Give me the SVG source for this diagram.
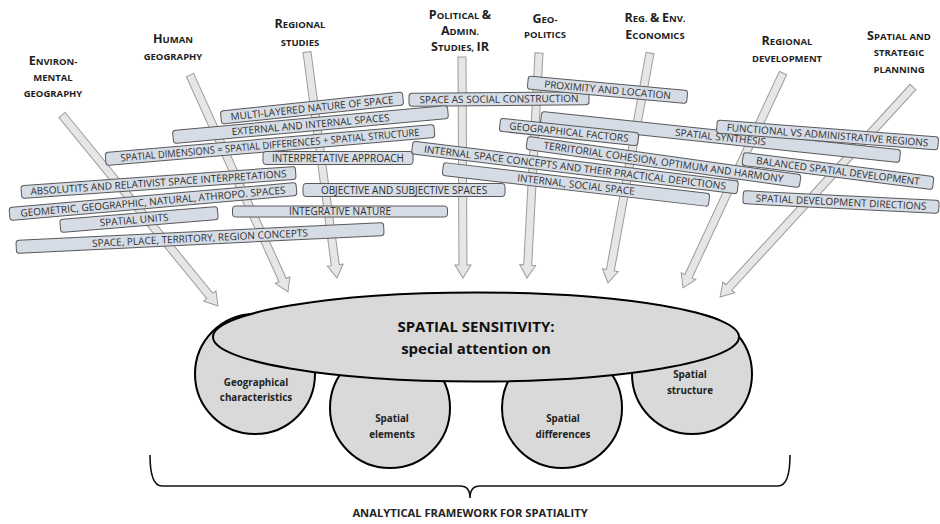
<svg xmlns="http://www.w3.org/2000/svg" width="940" height="524" viewBox="0 0 940 524">
<style>
text { font-family: "Open Sans", "Liberation Sans", sans-serif; }
.hdr { font-weight: 700; font-size: 9.5px; fill: #1e1e1e; text-anchor: middle; }
.hdr .b { font-size: 12.5px; }
.box rect { fill: #d6dce5; stroke: #595959; stroke-width: 1; }
.box text { font-size: 10px; fill: #2e2e2e; text-anchor: middle; }
.arr { fill: #e6e6e6; stroke: #9b9b9b; stroke-width: 1; }
.shape { fill: #d9d9d9; stroke: #000; stroke-width: 2; }
.ct { font-weight: 700; font-size: 9.8px; fill: #222; text-anchor: middle; }
.title { font-weight: 700; font-size: 15px; fill: #111; text-anchor: middle; }
.foot { font-weight: 700; font-size: 11.2px; fill: #222; text-anchor: middle; }
</style>

<g id="connectors">
  <path class="arr" transform="translate(62,115) rotate(50.76)" d="M0,-4 H233.6 V-8 L246.6,0 L233.6,8 V4 H0 Z"/>
  <path class="arr" transform="translate(190,75) rotate(65.7)" d="M0,-4 H225.1 V-8 L238.1,0 L225.1,8 V4 H0 Z"/>
  <path class="arr" transform="translate(307,52) rotate(82.44)" d="M0,-4 H215 V-8 L228,0 L215,8 V4 H0 Z"/>
  <path class="arr" transform="translate(462,57) rotate(89.74)" d="M0,-4 H208 V-8 L221,0 L208,8 V4 H0 Z"/>
  <path class="arr" transform="translate(539,53) rotate(93.05)" d="M0,-4 H212.3 V-8 L225.3,0 L212.3,8 V4 H0 Z"/>
  <path class="arr" transform="translate(650,53) rotate(100.35)" d="M0,-4 H220.8 V-8 L233.8,0 L220.8,8 V4 H0 Z"/>
  <path class="arr" transform="translate(783,73) rotate(114.94)" d="M0,-4 H224.1 V-8 L237.1,0 L224.1,8 V4 H0 Z"/>
  <path class="arr" transform="translate(913,87) rotate(132.58)" d="M0,-4 H272.2 V-8 L285.2,0 L272.2,8 V4 H0 Z"/>
</g>

<g id="hdr-env"><text class="hdr"><tspan x="53" y="65"><tspan class="b">E</tspan>NVIRON-</tspan><tspan x="53" y="81">MENTAL</tspan><tspan x="53" y="97">GEOGRAPHY</tspan></text></g>
<g id="hdr-human"><text class="hdr"><tspan x="173" y="43"><tspan class="b">H</tspan>UMAN</tspan><tspan x="173" y="60">GEOGRAPHY</tspan></text></g>
<g id="hdr-regstud"><text class="hdr"><tspan x="300" y="28"><tspan class="b">R</tspan>EGIONAL</tspan><tspan x="300" y="46">STUDIES</tspan></text></g>
<g id="hdr-pol"><text class="hdr"><tspan x="460" y="19"><tspan class="b">P</tspan>OLITICAL <tspan class="b">&amp;</tspan></tspan><tspan x="460" y="35"><tspan class="b">A</tspan>DMIN.</tspan><tspan x="460" y="51"><tspan class="b">S</tspan>TUDIES, <tspan class="b">IR</tspan></tspan></text></g>
<g id="hdr-geo"><text class="hdr"><tspan x="545" y="23"><tspan class="b">G</tspan>EO-</tspan><tspan x="545" y="38">POLITICS</tspan></text></g>
<g id="hdr-econ"><text class="hdr"><tspan x="655" y="21.5"><tspan class="b">R</tspan>EG. <tspan class="b">&amp;</tspan> <tspan class="b">E</tspan>NV.</tspan><tspan x="655" y="39"><tspan class="b">E</tspan>CONOMICS</tspan></text></g>
<g id="hdr-regdev"><text class="hdr"><tspan x="787" y="45"><tspan class="b">R</tspan>EGIONAL</tspan><tspan x="787" y="62">DEVELOPMENT</tspan></text></g>
<g id="hdr-plan"><text class="hdr"><tspan x="899" y="40"><tspan class="b">S</tspan>PATIAL AND</tspan><tspan x="899" y="56">STRATEGIC</tspan><tspan x="899" y="73">PLANNING</tspan></text></g>

<g id="box-multi" class="box" transform="translate(312,108) rotate(-6)"><rect x="-91.5" y="-6.5" width="183" height="13" rx="3"/><text y="3.6">MULTI-LAYERED NATURE OF SPACE</text></g>
<g id="box-social" class="box" transform="translate(499,99) rotate(-0.5)"><rect x="-90" y="-6.5" width="180" height="13" rx="3"/><text y="3.6">SPACE AS SOCIAL CONSTRUCTION</text></g>
<g id="box-external" class="box" transform="translate(310.5,124.5) rotate(-5.2)"><rect x="-138" y="-6.5" width="276" height="13" rx="3"/><text y="3.6">EXTERNAL AND INTERNAL SPACES</text></g>
<g id="box-dimensions" class="box" transform="translate(270,145) rotate(-4.9)"><rect x="-165" y="-6.5" width="330" height="13" rx="3"/><text y="3.6" textLength="300" lengthAdjust="spacingAndGlyphs">SPATIAL DIMENSIONS = SPATIAL DIFFERENCES + SPATIAL STRUCTURE</text></g>
<g id="box-interpretative" class="box" transform="translate(338,158)"><rect x="-75" y="-6.5" width="150" height="13" rx="3"/><text y="3.6">INTERPRETATIVE APPROACH</text></g>
<g id="box-absolut" class="box" transform="translate(158.5,182.5) rotate(-4)"><rect x="-137.5" y="-6.5" width="275" height="13" rx="3"/><text y="3.6">ABSOLUTITS AND RELATIVIST SPACE INTERPRETATIONS</text></g>
<g id="box-geometric" class="box" transform="translate(153,201.5) rotate(-5)"><rect x="-144" y="-6.5" width="288" height="13" rx="3"/><text y="3.6">GEOMETRIC, GEOGRAPHIC, NATURAL, ATHROPO. SPACES</text></g>
<g id="box-units" class="box" transform="translate(139,219.5) rotate(-4.7)"><rect x="-79" y="-6.5" width="158" height="13" rx="3"/><text x="-5" y="3.6">SPATIAL UNITS</text></g>
<g id="box-concepts" class="box" transform="translate(200,238) rotate(-2.8)"><rect x="-184" y="-6.5" width="368" height="13" rx="3"/><text y="3.6">SPACE, PLACE, TERRITORY, REGION CONCEPTS</text></g>
<g id="box-objective" class="box" transform="translate(404,190)"><rect x="-101" y="-6.5" width="202" height="13" rx="3"/><text y="3.6">OBJECTIVE AND SUBJECTIVE SPACES</text></g>
<g id="box-integrative" class="box" transform="translate(340,211.5)"><rect x="-107.5" y="-5.5" width="215" height="11" rx="3"/><text y="3.6">INTEGRATIVE NATURE</text></g>
<g id="box-synthesis" class="box" transform="translate(720.5,137) rotate(6.1)"><rect x="-180.5" y="-6.5" width="361" height="13" rx="3"/><text y="3.6">SPATIAL SYNTHESIS</text></g>
<g id="box-internalconcepts" class="box" transform="translate(575,167.5) rotate(7)"><rect x="-164" y="-6.5" width="328" height="13" rx="3"/><text y="3.6" textLength="304" lengthAdjust="spacingAndGlyphs">INTERNAL SPACE CONCEPTS AND THEIR PRACTICAL DEPICTIONS</text></g>
<g id="box-internalsocial" class="box" transform="translate(576,184.5) rotate(6.65)"><rect x="-134" y="-6.5" width="268" height="13" rx="3"/><text y="3.6">INTERNAL, SOCIAL SPACE</text></g>
<g id="box-proximity" class="box" transform="translate(607.5,89.75) rotate(5.2)"><rect x="-80" y="-6.5" width="160" height="13" rx="3"/><text y="3.6">PROXIMITY AND LOCATION</text></g>
<g id="box-geofactors" class="box" transform="translate(569,132) rotate(6)"><rect x="-69.5" y="-6.5" width="139" height="13" rx="3"/><text y="3.6">GEOGRAPHICAL FACTORS</text></g>
<g id="box-territorial" class="box" transform="translate(663.5,162) rotate(8)"><rect x="-138" y="-6.5" width="276" height="13" rx="3"/><text y="3.6">TERRITORIAL COHESION, OPTIMUM AND HARMONY</text></g>
<g id="box-functional" class="box" transform="translate(827.5,135) rotate(4.4)"><rect x="-111" y="-6.5" width="222" height="13" rx="3"/><text y="3.6">FUNCTIONAL VS ADMINISTRATIVE REGIONS</text></g>
<g id="box-balanced" class="box" transform="translate(838,171) rotate(7.3)"><rect x="-96" y="-6.5" width="192" height="13" rx="3"/><text y="3.6">BALANCED SPATIAL DEVELOPMENT</text></g>
<g id="box-directions" class="box" transform="translate(841,202) rotate(2.8)"><rect x="-98" y="-6.5" width="196" height="13" rx="3"/><text y="3.6">SPATIAL DEVELOPMENT DIRECTIONS</text></g>

<g id="circle-geo"><circle class="shape" cx="255" cy="374" r="60"/><text class="ct"><tspan x="256" y="386">Geographical</tspan><tspan x="256" y="401">characteristics</tspan></text></g>
<g id="circle-elements"><circle class="shape" cx="390" cy="408" r="60"/><text class="ct"><tspan x="392" y="422">Spatial</tspan><tspan x="392" y="438">elements</tspan></text></g>
<g id="circle-differences"><circle class="shape" cx="562" cy="408" r="60"/><text class="ct"><tspan x="563" y="422">Spatial</tspan><tspan x="563" y="438">differences</tspan></text></g>
<g id="circle-structure"><circle class="shape" cx="692" cy="374" r="60"/><text class="ct"><tspan x="690" y="378">Spatial</tspan><tspan x="690" y="394">structure</tspan></text></g>

<g id="sensitivity"><ellipse class="shape" cx="476" cy="337" rx="263" ry="44.5"/><text class="title"><tspan x="476" y="332">SPATIAL SENSITIVITY:</tspan><tspan x="476" y="354">special attention on</tspan></text></g>

<g id="framework"><path d="M150,455 Q150,486 162,486 L460,486 Q470,486 470,498 Q470,486 480,486 L778,486 Q790,486 790,455" fill="none" stroke="#111" stroke-width="1.6"/><text class="foot" x="470" y="517">ANALYTICAL FRAMEWORK FOR SPATIALITY</text></g>
</svg>
